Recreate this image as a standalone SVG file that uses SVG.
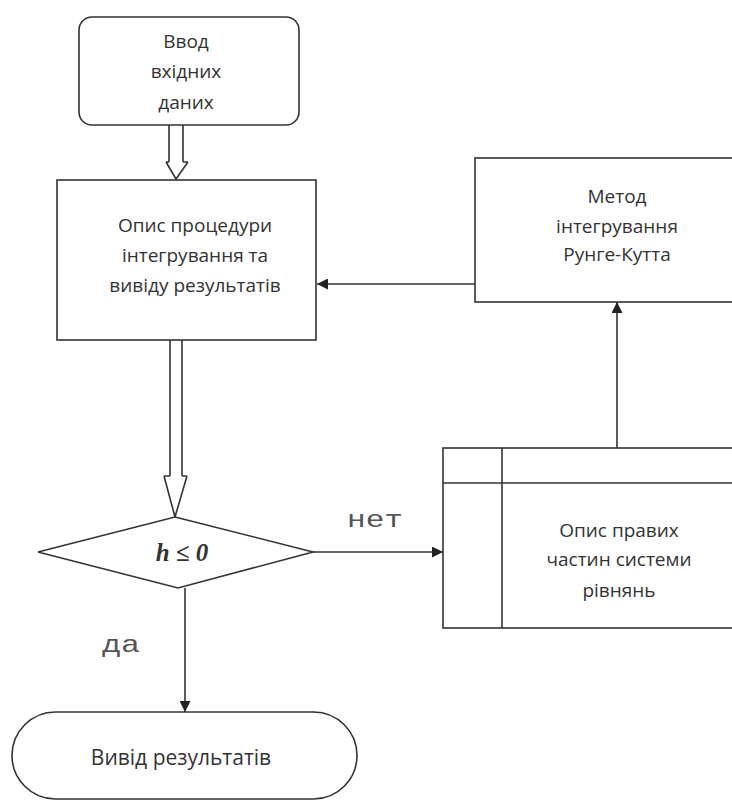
<svg xmlns="http://www.w3.org/2000/svg" width="732" height="801" viewBox="0 0 732 801">
<defs>
<style>
.n{fill:#fff;stroke:#333;stroke-width:1.6}
.t{font-family:"Open Sans","DejaVu Sans",sans-serif;font-size:19px;fill:#333;text-anchor:middle}
.m{font-family:"Liberation Mono",monospace;font-size:24px;fill:#555;text-anchor:middle}
.c{fill:none;stroke:#333;stroke-width:1.6}
</style>
<marker id="ah" viewBox="0 0 10 10" refX="10" refY="5" markerWidth="11" markerHeight="11" markerUnits="userSpaceOnUse" orient="auto">
<path d="M0,0 L10,5 L0,10 z" fill="#222"/>
</marker>
</defs>
<rect width="732" height="801" fill="#fff"/>
<g id="connectors">
<path class="c" d="M169,125 V162 M183,125 V162 M166,162 H169 M183,162 H188 M166,162 L176,179 L188,162"/>
<path class="c" d="M170,340 V476 M182,340 V476 M164,476 H170 M182,476 H187 M164,476 L175,517 L187,476"/>
<line class="c" x1="313" y1="552" x2="443" y2="552" marker-end="url(#ah)"/>
<line class="c" x1="617" y1="448" x2="617" y2="302" marker-end="url(#ah)"/>
<line class="c" x1="475" y1="284" x2="317" y2="284" marker-end="url(#ah)"/>
<line class="c" x1="185" y1="588" x2="185" y2="712" marker-end="url(#ah)"/>
<text class="m" x="375" y="527" textLength="56" lengthAdjust="spacingAndGlyphs">нет</text>
<text class="m" x="121" y="652" textLength="38" lengthAdjust="spacingAndGlyphs">да</text>
</g>
<g id="input">
<rect class="n" x="79" y="17" width="220" height="108" rx="13"/>
<text class="t" x="186" y="48">Ввод</text>
<text class="t" x="186" y="78">вхідних</text>
<text class="t" x="186" y="109">даних</text>
</g>
<g id="procedure">
<rect class="n" x="57" y="180" width="259" height="160"/>
<text class="t" x="195" y="232">Опис процедури</text>
<text class="t" x="195" y="262">інтегрування та</text>
<text class="t" x="195" y="292">вивіду результатів</text>
</g>
<g id="runge">
<rect class="n" x="475" y="158" width="270" height="144"/>
<text class="t" x="617" y="203">Метод</text>
<text class="t" x="617" y="233">інтегрування</text>
<text class="t" x="617" y="261">Рунге-Кутта</text>
</g>
<g id="decision">
<polygon class="n" points="175,517 313,552 178,588 38,552"/>
<text x="182" y="561" style="font-family:'Liberation Serif',serif;font-size:25px;font-style:italic;font-weight:bold;fill:#333;text-anchor:middle">h ≤ 0</text>
</g>
<g id="equations">
<rect class="n" x="443" y="448" width="300" height="180"/>
<line class="c" x1="502" y1="448" x2="502" y2="628"/>
<line class="c" x1="443" y1="483" x2="743" y2="483"/>
<text class="t" x="619" y="537">Опис правих</text>
<text class="t" x="619" y="566">частин системи</text>
<text class="t" x="619" y="597">рівнянь</text>
</g>
<g id="output">
<rect class="n" x="12" y="712" width="345" height="87" rx="43.5"/>
<text class="t" x="181" y="765" style="font-size:21px">Вивід результатів</text>
</g>
</svg>
